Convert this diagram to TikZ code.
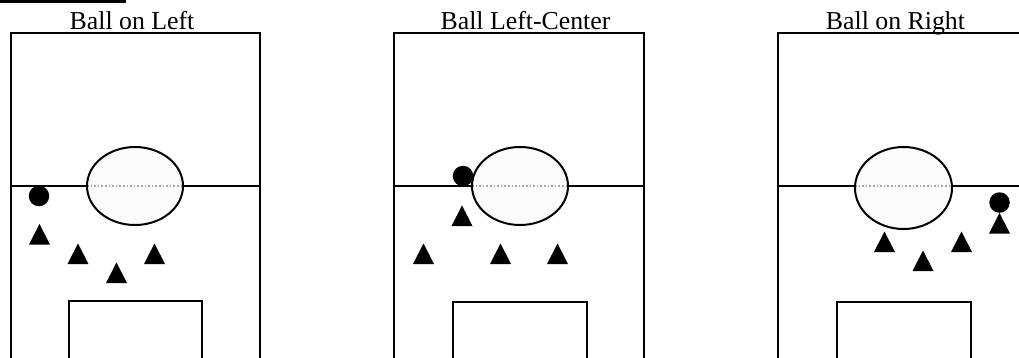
\documentclass[tikz,border=0pt]{standalone}
\usepackage{fontspec}
\setmainfont{Liberation Serif}
\tikzset{
  fieldline/.style={line width=2pt, draw=black},
  circleline/.style={line width=2pt, draw=black, fill=gray!3},
  dotline/.style={line width=1.6pt, draw=gray!70, dotted},
  ball/.style={circle, fill=black, minimum size=20.5pt, inner sep=0pt},
  title/.style={anchor=base, inner sep=0pt, font=\fontsize{25.8}{30}\selectfont},
  player/.pic={\fill[black] (-10.5,0) -- (10.5,0) -- (0,-20.5) -- cycle;}
}
\begin{document}
\begin{tikzpicture}[x=1pt,y=-1pt]
\useasboundingbox (0,0) rectangle (1019,357);
\clip (0,0) rectangle (1019,357);
\fill[white] (0,0) rectangle (1019,357);
% top-left rule
\draw[line width=3pt] (0,1.5) -- (126,1.5);
% titles
\node[title] (t1) at (132,29.5) {Ball on Left};
\node[title] (t2) at (525.5,29.5) {Ball Left-Center};
\node[title] (t3) at (895.5,29.5) {Ball on Right};
% ---- field 1
\draw[fieldline] (11,360) -- (11,33) -- (260,33) -- (260,360);
\draw[fieldline] (11,186) -- (260,186);
\draw[fieldline] (69,360) -- (69,301) -- (202,301) -- (202,360);
\fill[gray!3] (135,186) ellipse [x radius=48pt, y radius=39pt];
\draw[dotline] (87,186) -- (183,186);
\draw[fieldline] (135,186) ellipse [x radius=48pt, y radius=39pt];
\node[ball] (b1) at (39,196) {};
\pic at (39.5,244.5) {player};
\pic at (78,264) {player};
\pic at (116.5,283) {player};
\pic at (154.5,264) {player};
% ---- field 2
\draw[fieldline] (394,360) -- (394,33) -- (644,33) -- (644,360);
\draw[fieldline] (394,186) -- (644,186);
\draw[fieldline] (452.5,360) -- (452.5,302) -- (586.5,302) -- (586.5,360);
\fill[gray!3] (520,186) ellipse [x radius=48pt, y radius=39pt];
\draw[dotline] (472,186) -- (568,186);
\draw[fieldline] (520,186) ellipse [x radius=48pt, y radius=39pt];
\node[ball] (b2) at (463,176) {};
\pic at (462,226) {player};
\pic at (423.5,264) {player};
\pic at (500.5,264) {player};
\pic at (557.5,264) {player};
% ---- field 3
\draw[fieldline] (778,360) -- (778,33) -- (1030,33) -- (1030,360);
\draw[fieldline] (778,186) -- (1030,186);
\draw[fieldline] (836.5,360) -- (836.5,302) -- (970.5,302) -- (970.5,360);
\fill[gray!3] (903.5,188) ellipse [x radius=48.5pt, y radius=41pt];
\draw[dotline] (855,186) -- (952,186);
\draw[fieldline] (903.5,188) ellipse [x radius=48.5pt, y radius=41pt];
\node[ball] (b3) at (999.5,202.5) {};
\pic at (999.5,233.5) {player};
\pic at (884.5,252) {player};
\pic at (923,271) {player};
\pic at (961.5,252) {player};
\end{tikzpicture}
\end{document}
